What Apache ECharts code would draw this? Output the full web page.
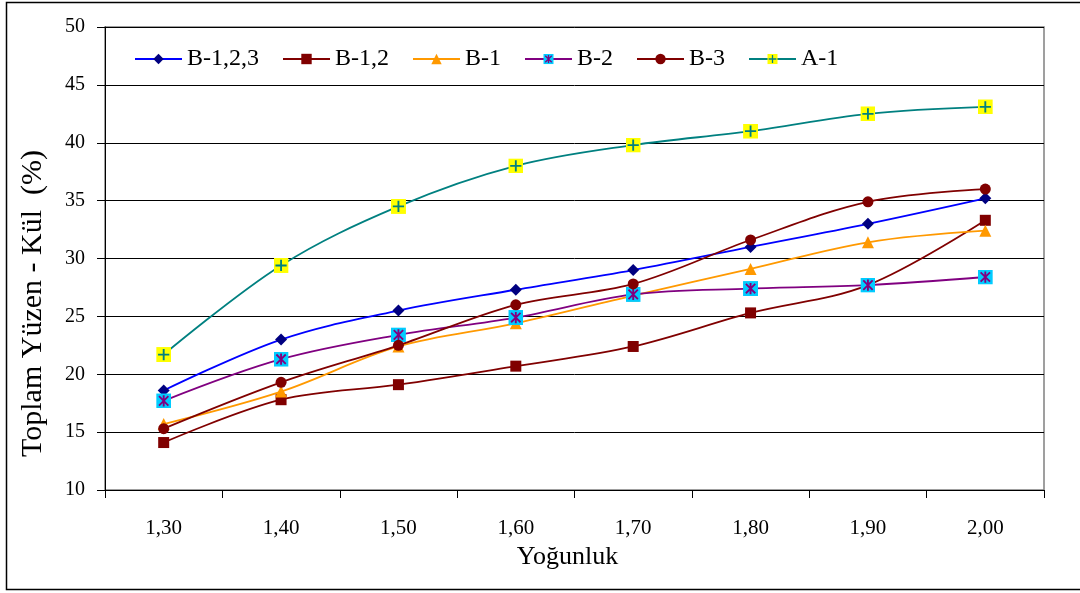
<!DOCTYPE html>
<html>
<head>
<meta charset="utf-8">
<script src="https://cdn.jsdelivr.net/npm/echarts@6/dist/echarts.min.js"></script>
<style>
  html, body { margin: 0; padding: 0; background: #fff; }
  #chart { width: 1080px; height: 593px; }
</style>
</head>
<body>
<div id="chart"></div>
<script>
// kategoriler ve seriler
const categories = ['1,30', '1,40', '1,50', '1,60', '1,70', '1,80', '1,90', '2,00'];
const seriesNames = ['B-1,2,3', 'B-1,2', 'B-1', 'B-2', 'B-3', 'A-1'];
const b123 = [18.6, 23.0, 25.5, 27.3, 29.0, 31.0, 33.0, 35.2];
const b12 = [14.1, 17.8, 19.1, 20.7, 22.4, 25.3, 27.7, 33.3];
const b1 = [15.7, 18.5, 22.4, 24.4, 26.8, 29.1, 31.4, 32.4];
const b2 = [17.7, 21.3, 23.4, 24.9, 26.9, 27.4, 27.7, 28.4];
const b3 = [15.3, 19.3, 22.5, 26.0, 27.8, 31.6, 34.9, 36.0];
const a1 = [21.7, 29.4, 34.5, 38.0, 39.8, 41.0, 42.5, 43.1];

const font = 'Liberation Serif';

// iki renkli isaretler icin svg
const svgSymbol = (svg) => 'image://data:image/svg+xml;charset=utf-8,' + encodeURIComponent(svg);
const b2Symbol = svgSymbol(
  '<svg xmlns="http://www.w3.org/2000/svg" width="16" height="16" viewBox="0 0 16 16">' +
  '<rect width="16" height="16" fill="#00CCFF"/>' +
  '<path d="M3 3 L13 13 M13 3 L3 13 M8 2 L8 14" stroke="#800080" stroke-width="2" fill="none"/>' +
  '</svg>');
const a1Symbol = svgSymbol(
  '<svg xmlns="http://www.w3.org/2000/svg" width="16" height="16" viewBox="0 0 16 16">' +
  '<rect width="16" height="16" fill="#FFFF00"/>' +
  '<path d="M8 2 L8 14 M2 8 L14 8" stroke="#008080" stroke-width="2" fill="none"/>' +
  '</svg>');

const myChart = echarts.init(document.getElementById('chart'));

const mkSeries = (name, data, lineColor, markColor, symbol, size) => ({
  name: name,
  type: 'line',
  data: data,
  smooth: 0.35,
  symbol: symbol,
  symbolSize: size,
  showAllSymbol: true,
  lineStyle: { color: lineColor, width: 1.8 },
  itemStyle: { color: markColor, borderWidth: 0 },
  emphasis: { disabled: true },
  z: 3,
});

const option = {
  backgroundColor: '#fff',
  animation: false,
  textStyle: { fontFamily: font },
  graphic: [{
    type: 'rect',
    shape: { x: 6.5, y: 2.5, width: 1080, height: 587 },
    style: { fill: 'none', stroke: '#000', lineWidth: 1.5 },
    silent: true,
  }],
  grid: {
    left: 105,
    right: 36,
    top: 27,
    bottom: 103,
    show: true,
    borderColor: '#808080',
    borderWidth: 1.5,
  },
  legend: {
    left: 129,
    top: 42,
    itemWidth: 47,
    itemHeight: 13,
    itemGap: 23,
    textStyle: { fontFamily: font, fontSize: 24, color: '#000' },
    data: seriesNames,
  },
  xAxis: {
    type: 'category',
    data: categories,
    boundaryGap: true,
    name: 'Yoğunluk',
    nameLocation: 'middle',
    nameGap: 54,
    nameTextStyle: { fontFamily: font, fontSize: 26, color: '#000', padding: [0, 14, 0, 0] },
    axisLine: { lineStyle: { color: '#000', width: 1 } },
    axisTick: { show: true, length: 8, lineStyle: { color: '#000' } },
    axisLabel: { fontFamily: font, fontSize: 21, color: '#000', margin: 28 },
    splitLine: { show: false },
  },
  yAxis: {
    type: 'value',
    min: 10,
    max: 50,
    interval: 5,
    name: 'Toplam Yüzen - Kül  (%)',
    nameLocation: 'middle',
    nameGap: 57,
    nameTextStyle: { fontFamily: font, fontSize: 30, color: '#000', padding: [0, 90, 0, 0] },
    axisLine: { show: true, lineStyle: { color: '#000', width: 1 } },
    axisTick: { show: true, length: 8, lineStyle: { color: '#000' } },
    axisLabel: { fontFamily: font, fontSize: 20, color: '#000', margin: 20 },
    splitLine: { show: true, lineStyle: { color: '#000', width: 1 } },
  },
  series: [
    mkSeries('B-1,2,3', b123, '#0000FF', '#000080', 'diamond', 12),
    mkSeries('B-1,2', b12, '#800000', '#800000', 'rect', 11),
    mkSeries('B-1', b1, '#FF9900', '#FF9900', 'triangle', 12),
    mkSeries('B-2', b2, '#800080', '#800080', b2Symbol, 15),
    mkSeries('B-3', b3, '#800000', '#800000', 'circle', 11),
    mkSeries('A-1', a1, '#008080', '#008080', a1Symbol, 15),
  ],
};

option && myChart.setOption(option);
</script>
</body>
</html>
